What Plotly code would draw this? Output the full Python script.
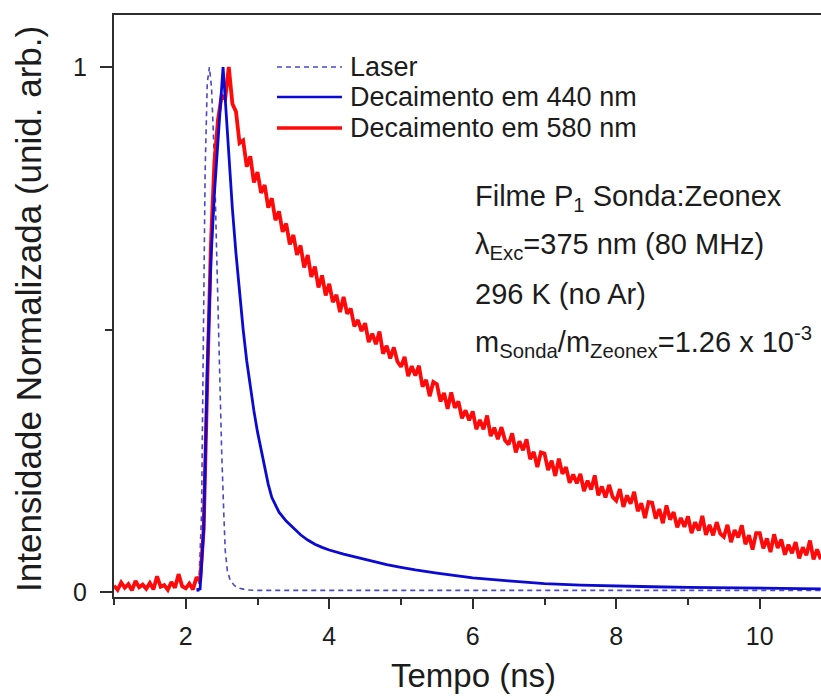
import plotly.graph_objects as go

# ---- time-resolved photoluminescence data (normalised) ----
# Decay at 580 nm: TCSPC channels starting at 1.00 ns, 0.05 ns per channel
red_t0 = 1.00
red_dt = 0.05
red_580 = [
    0.012, 0.004, 0.018, 0.008, 0.015, 0.003, 0.021, 0.009, 0.014, 0.006,
    0.017, 0.005, 0.030, 0.010, 0.013, 0.004, 0.019, 0.008, 0.034, 0.011,
    0.007, 0.016, 0.005, 0.028, 0.020, 0.120, 0.400, 0.660, 0.820, 0.900,
    0.945, 0.940, 1.000, 0.930, 0.915, 0.855, 0.860, 0.810, 0.830, 0.780,
    0.800, 0.760, 0.775, 0.732, 0.750, 0.708, 0.725, 0.686, 0.702, 0.662,
    0.680, 0.642, 0.660, 0.618, 0.642, 0.600, 0.620, 0.580, 0.603, 0.565,
    0.587, 0.552, 0.566, 0.533, 0.562, 0.530, 0.540, 0.506, 0.518, 0.497,
    0.512, 0.476, 0.492, 0.472, 0.496, 0.454, 0.469, 0.445, 0.466, 0.439,
    0.429, 0.448, 0.411, 0.430, 0.412, 0.431, 0.391, 0.404, 0.373, 0.400,
    0.396, 0.363, 0.379, 0.349, 0.380, 0.351, 0.363, 0.331, 0.346, 0.327,
    0.344, 0.310, 0.328, 0.310, 0.336, 0.297, 0.313, 0.291, 0.314, 0.289,
    0.281, 0.302, 0.266, 0.287, 0.270, 0.291, 0.253, 0.267, 0.238, 0.266,
    0.264, 0.232, 0.250, 0.221, 0.254, 0.225, 0.238, 0.208, 0.224, 0.207,
    0.225, 0.192, 0.212, 0.195, 0.222, 0.184, 0.201, 0.180, 0.204, 0.181,
    0.174, 0.196, 0.162, 0.184, 0.168, 0.191, 0.154, 0.169, 0.141, 0.171,
    0.170, 0.140, 0.158, 0.131, 0.165, 0.138, 0.152, 0.123, 0.141, 0.124,
    0.144, 0.112, 0.133, 0.117, 0.145, 0.109, 0.128, 0.108, 0.133, 0.111,
    0.105, 0.128, 0.095, 0.118, 0.104, 0.127, 0.091, 0.108, 0.081, 0.112,
    0.112, 0.083, 0.102, 0.076, 0.110, 0.084, 0.100, 0.071, 0.090, 0.074,
    0.095, 0.064, 0.085, 0.070, 0.098, 0.062, 0.081, 0.062,
]
red_time = [round(red_t0 + i * red_dt, 3) for i in range(len(red_580))]

# Decay at 440 nm
blue_time = [2.15, 2.20, 2.25, 2.30, 2.35, 2.40, 2.45, 2.50, 2.52, 2.55,
             2.60, 2.65, 2.70, 2.75, 2.80, 2.85, 2.90, 2.95, 3.00, 3.05,
             3.10, 3.15, 3.20, 3.30, 3.40, 3.50, 3.60, 3.70, 3.80, 3.90,
             4.00, 4.20, 4.40, 4.60, 4.80, 5.00, 5.20, 5.50, 6.00, 6.50,
             7.00, 7.50, 8.00, 8.50, 9.00, 9.50, 10.00, 10.50, 10.85]
blue_440 = [0.004, 0.006, 0.120, 0.420, 0.630, 0.760, 0.860, 0.960, 1.000, 0.940,
            0.830, 0.730, 0.645, 0.570, 0.500, 0.440, 0.390, 0.345, 0.305, 0.270,
            0.238, 0.205, 0.180, 0.152, 0.135, 0.121, 0.109, 0.099, 0.091, 0.085,
            0.080, 0.072, 0.065, 0.058, 0.052, 0.047, 0.042, 0.036, 0.027, 0.021,
            0.016, 0.013, 0.011, 0.010, 0.009, 0.008, 0.007, 0.007, 0.006]

# Instrument response (laser)
laser_time = [2.15, 2.18, 2.22, 2.25, 2.27, 2.30, 2.33, 2.36, 2.40, 2.43,
              2.46, 2.50, 2.53, 2.55, 2.58, 2.62, 2.68, 2.75, 2.85, 3.00,
              4.00, 10.85]
laser = [0.002, 0.002, 0.150, 0.500, 0.800, 0.970, 1.000, 0.960, 0.820, 0.650,
         0.460, 0.270, 0.150, 0.080, 0.040, 0.022, 0.012, 0.007, 0.004, 0.003,
         0.003, 0.003]

series_names = ["Laser", "Decaimento em 440 nm", "Decaimento em 580 nm"]
x_ticks = [2, 4, 6, 8, 10]
x_minor = [1, 3, 5, 7, 9]
y_ticks = [0, 1]
y_minor = [0.5]

# ---- styling ----
FONT = "Liberation Sans, Arial, Helvetica, sans-serif"
AXIS = "#2e2e2e"
TXT = "#1c1c1c"
C_LASER = "#4848c8"
C_BLUE = "#0a0ad2"
C_RED = "#ff0a0a"

W, H = 821, 697
ML, MR, MT, MB = 114, 0, 15, 100
PW, PH = W - ML - MR, H - MT - MB


def px(xp):
    return (xp - ML) / PW


def py(yp):
    return (H - MB - yp) / PH


fig = go.Figure()
fig.add_trace(go.Scatter(x=laser_time, y=laser, mode="lines", name=series_names[0],
                         line=dict(color=C_LASER, width=1.6, dash="5px,4px"),
                         showlegend=False))
fig.add_trace(go.Scatter(x=red_time, y=red_580, mode="lines", name=series_names[2],
                         line=dict(color=C_RED, width=3.8), showlegend=False))
fig.add_trace(go.Scatter(x=blue_time, y=blue_440, mode="lines", name=series_names[1],
                         line=dict(color=C_BLUE, width=2.8), showlegend=False))

# legend drawn as line samples + labels
legend_rows = [(67, C_LASER, "dash", 1.6), (97, C_BLUE, "solid", 2.6), (128, C_RED, "solid", 3.4)]
for (yrow, col, dash, wdt), name in zip(legend_rows, series_names):
    fig.add_shape(type="line", xref="paper", yref="paper",
                  x0=px(277), x1=px(342), y0=py(yrow), y1=py(yrow),
                  line=dict(color=col, width=wdt, dash="5px,4px" if dash == "dash" else "solid"))
    fig.add_annotation(text=name, xref="paper", yref="paper", x=px(348), y=py(yrow),
                       xanchor="left", yanchor="middle", showarrow=False,
                       font=dict(family=FONT, size=27, color=TXT))

# sample description
info_lines = [
    (198, "Filme P<sub>1</sub> Sonda:Zeonex"),
    (246, "λ<sub>Exc</sub>=375 nm (80 MHz)"),
    (294, "296 K (no Ar)"),
    (342, "m<sub>Sonda</sub>/m<sub>Zeonex</sub>=1.26 x 10<sup>-3</sup>"),
]
for yrow, txt in info_lines:
    fig.add_annotation(text=txt, xref="paper", yref="paper", x=px(473), y=py(yrow),
                       xanchor="left", yanchor="middle", showarrow=False,
                       font=dict(family=FONT, size=29, color=TXT))

# axis titles
fig.add_annotation(text="Tempo (ns)", xref="paper", yref="paper", x=px(473), y=py(675),
                   xanchor="center", yanchor="middle", showarrow=False,
                   font=dict(family=FONT, size=33, color=TXT))
fig.add_annotation(text="Intensidade Normalizada (unid. arb.)", xref="paper", yref="paper",
                   x=px(28), y=py(309), xanchor="center", yanchor="middle", textangle=-90,
                   showarrow=False, font=dict(family=FONT, size=35, color=TXT))

fig.update_xaxes(range=[1.0, 1.0 + PW / 71.75], tickvals=x_ticks, ticks="outside",
                 ticklen=10, tickwidth=2, tickcolor=AXIS, showline=True, linewidth=2,
                 linecolor=AXIS, mirror=True, showgrid=False, zeroline=False,
                 tickfont=dict(family=FONT, size=25, color=TXT), ticklabelstandoff=6,
                 minor=dict(tickvals=x_minor, ticks="outside", ticklen=6, tickwidth=2,
                            tickcolor=AXIS, showgrid=False))
fig.update_yaxes(range=[-5 / 525, 1 + 52 / 525], tickvals=y_ticks, ticks="outside",
                 ticklen=12, tickwidth=2, tickcolor=AXIS, showline=True, linewidth=2,
                 linecolor=AXIS, mirror=False, showgrid=False, zeroline=False,
                 tickfont=dict(family=FONT, size=25, color=TXT), ticklabelstandoff=8,
                 minor=dict(tickvals=y_minor, ticks="outside", ticklen=7, tickwidth=2,
                            tickcolor=AXIS, showgrid=False))

fig.update_layout(width=W, height=H, margin=dict(l=ML, r=MR, t=MT, b=MB),
                  plot_bgcolor="white", paper_bgcolor="white", showlegend=False)

fig.write_html("out.html")
